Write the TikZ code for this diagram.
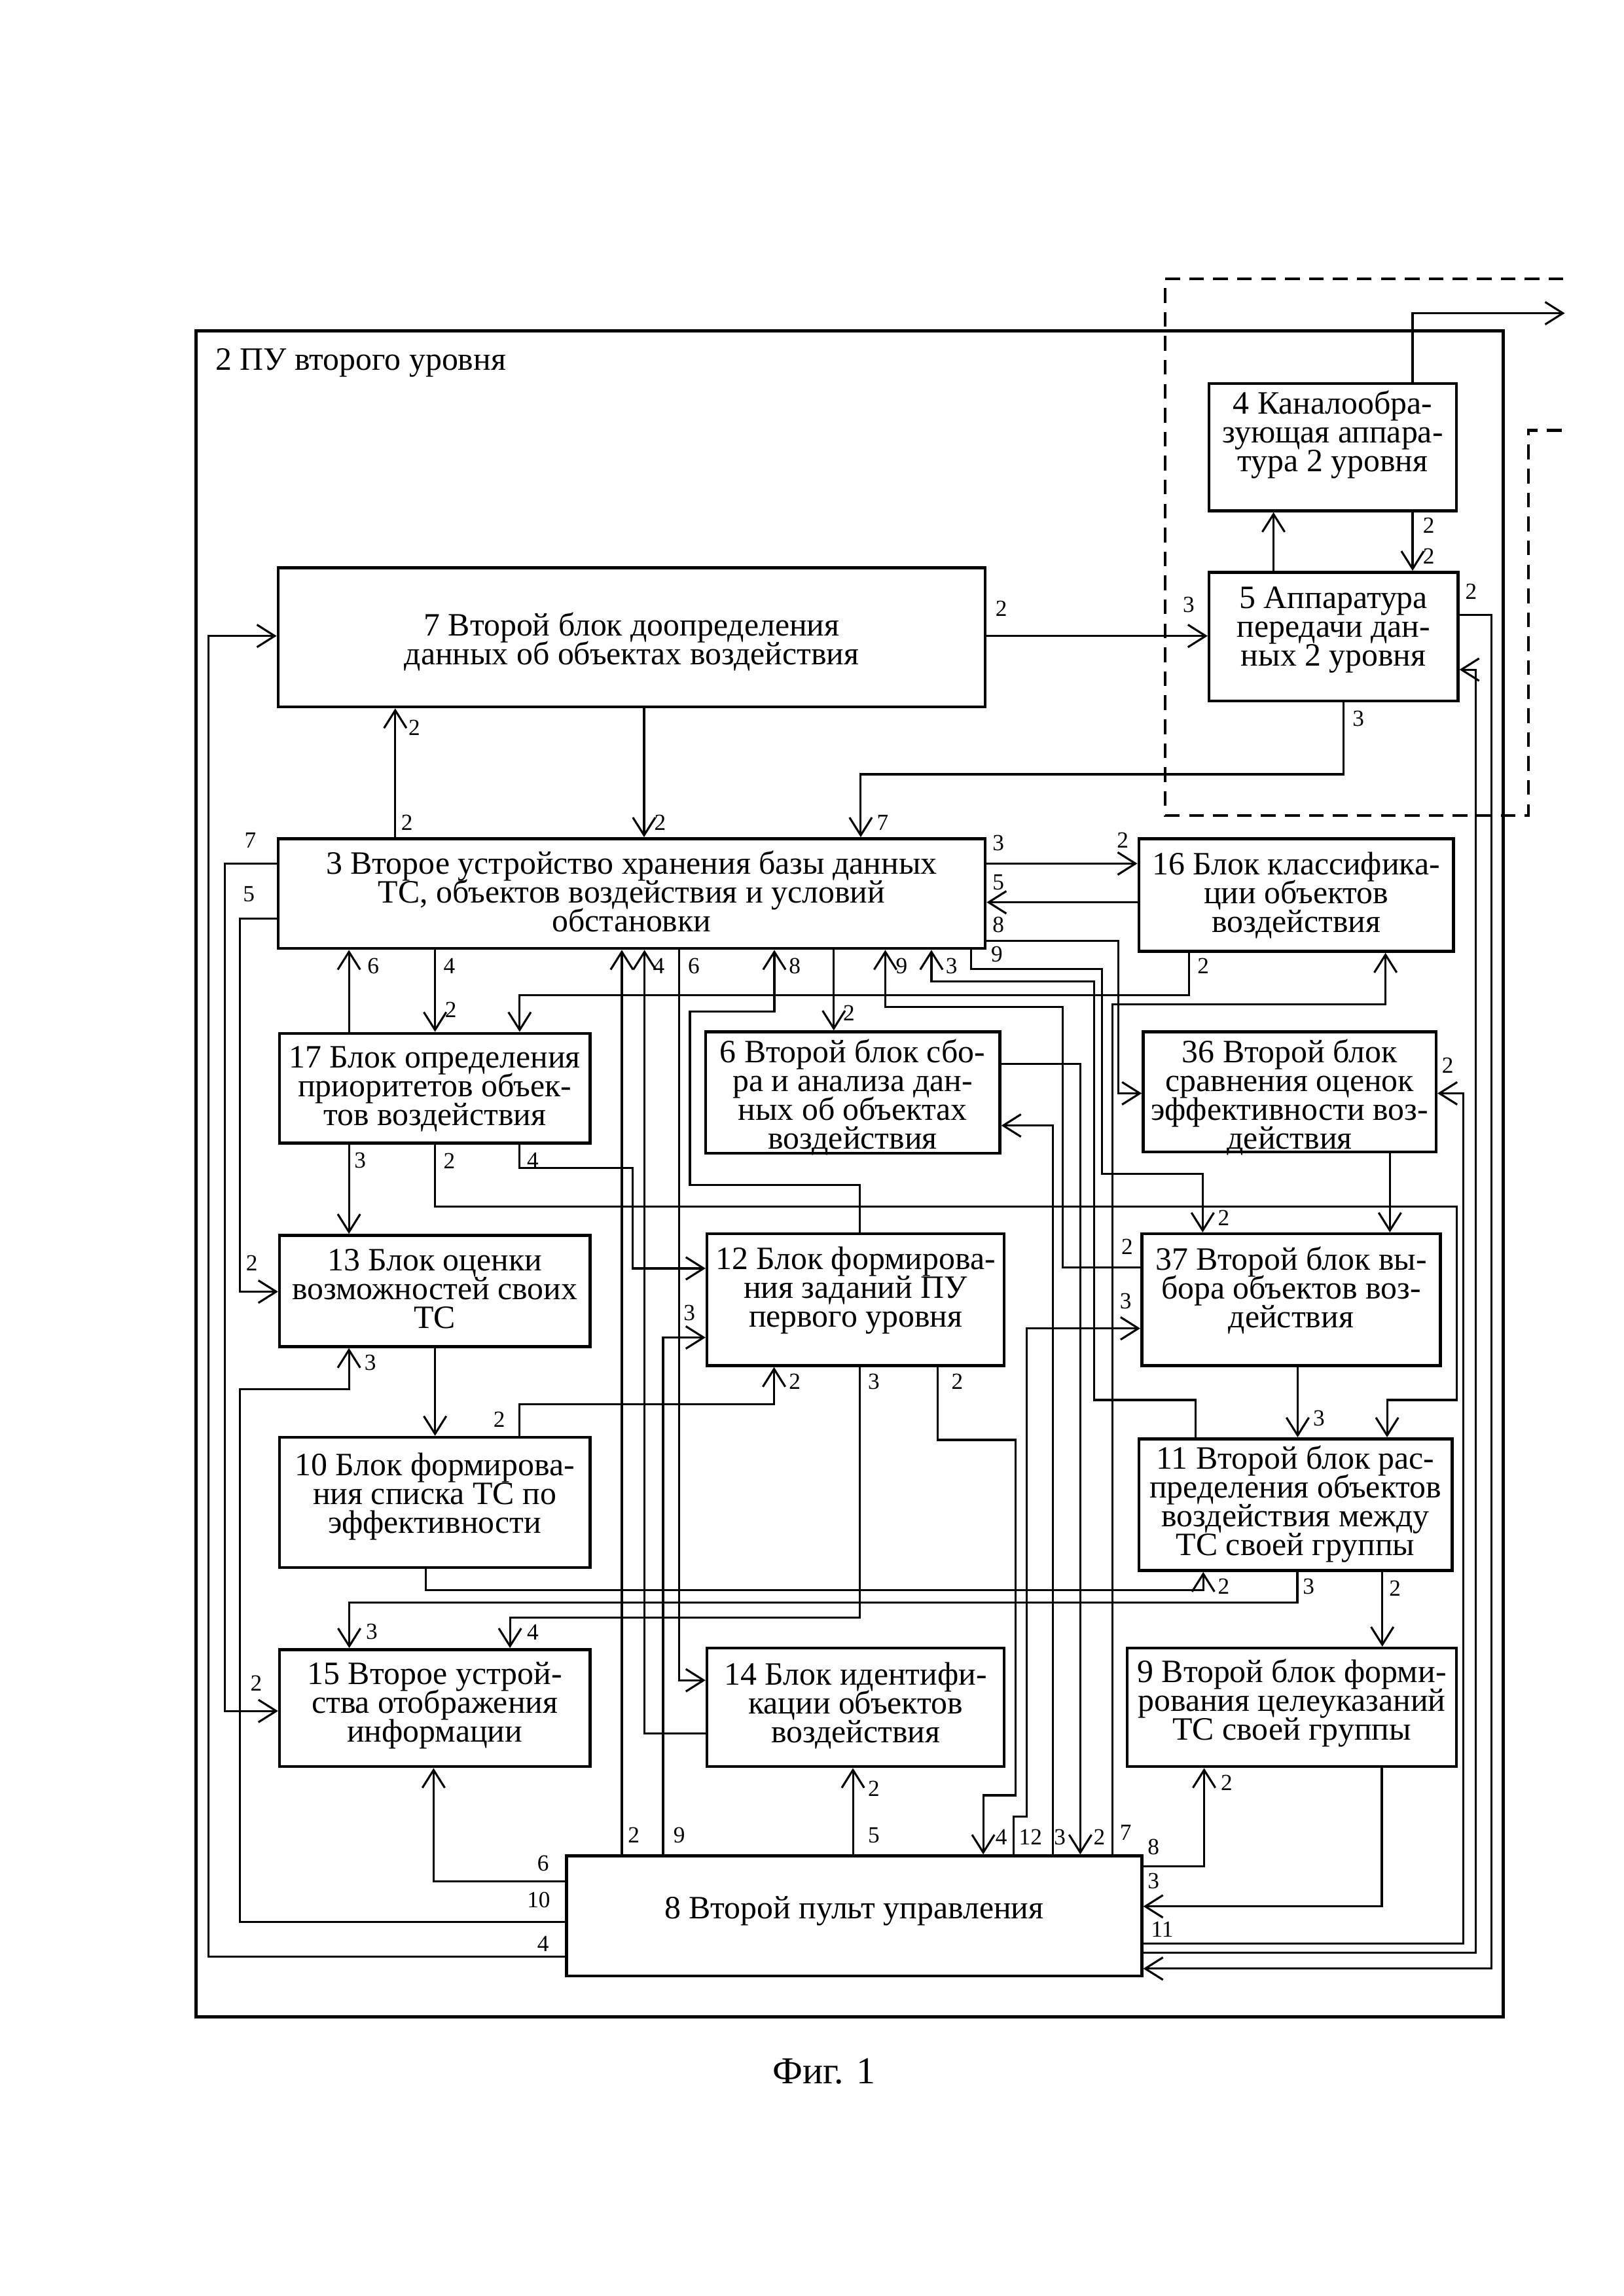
\documentclass[tikz,border=0pt]{standalone}
\usepackage{fontspec}
\setmainfont{Liberation Serif}
\usetikzlibrary{arrows.meta,fit}

\begin{document}
\lineskiplimit=-20pt\relax
\begin{tikzpicture}[x=0.18936mm, y=-0.18936mm,
    blk/.style={draw, line width=1.1pt, inner sep=0pt},
    txt/.style={inner sep=0pt, align=center, font=\fontsize{12}{10.6}\selectfont},
    arr/.style={line width=0.75pt, -{Straight Barb[length=2.3mm,width=2.9mm]}},
    num/.style={inner sep=0pt, font=\fontsize{8.5}{8.5}\selectfont}]
    \useasboundingbox (0,0) rectangle (1109,1568.7);

    % outer frame and the dashed part
    \node[draw, line width=1.3pt, inner sep=0pt, fit={(134,226) (1027,1378)}] (b2) {};
    \node[anchor=west, inner sep=0pt, font=\fontsize{12}{12}\selectfont] (t2) at (147,248) {2 ПУ второго уровня};
    \draw[line width=1pt, dash pattern=on 1.9mm off 1.2mm] (1068,190.5) -- (796,190.5) -- (796,557) -- (1044,557) -- (1044,294) -- (1068,294);
    \coordinate (ext) at (1069,214);

    % blocks
    \node[blk, fit={(826,262) (995,349)}] (b4) {};
    \node[blk, fit={(826,391) (996,479)}] (b5) {};
    \node[blk, fit={(190,388) (673,483)}] (b7) {};
    \node[blk, fit={(190,573) (673,648)}] (b3) {};
    \node[blk, fit={(778,573) (993,650)}] (b16) {};
    \node[blk, fit={(191,706) (403,781)}] (b17) {};
    \node[blk, fit={(482,705) (683,788)}] (b6) {};
    \node[blk, fit={(781,705) (981,787)}] (b36) {};
    \node[blk, fit={(191,844) (403,920)}] (b13) {};
    \node[blk, fit={(483,843) (686,933)}] (b12) {};
    \node[blk, fit={(780,843) (984,933)}] (b37) {};
    \node[blk, fit={(191,982) (403,1071)}] (b10) {};
    \node[blk, fit={(778,983) (992,1073)}] (b11) {};
    \node[blk, fit={(191,1127) (403,1207)}] (b15) {};
    \node[blk, fit={(483,1126) (686,1207)}] (b14) {};
    \node[blk, fit={(770,1126) (995,1207)}] (b9) {};
    \node[blk, fit={(387,1268) (780,1350)}] (b8) {};

    % texts of the blocks
    \node[txt, yshift=4.5pt] (t4) at (b4.center) {4 Каналообра-\\зующая аппара-\\тура 2 уровня};
    \node[txt, yshift=2.4pt] (t5) at (b5.center) {5 Аппаратура\\передачи дан-\\ных 2 уровня};
    \node[txt, yshift=-1.6pt] (t7) at (b7.center) {7 Второй блок доопределения\\данных об объектах воздействия};
    \node[txt, yshift=0.8pt] (t3) at (b3.center) {3 Второе устройство хранения базы данных\\ТС, объектов воздействия и условий\\обстановки};
    \node[txt, yshift=-0.2pt] (t16) at (b16.center) {16 Блок классифика-\\ции объектов\\воздействия};
    \node[txt, yshift=-0.4pt] (t17) at (b17.center) {17 Блок определения\\приоритетов объек-\\тов воздействия};
    \node[txt, yshift=-1.7pt] (t6) at (b6.center) {6 Второй блок сбо-\\ра и анализа дан-\\ных об объектах\\воздействия};
    \node[txt, yshift=-2pt] (t36) at (b36.center) {36 Второй блок\\сравнения оценок\\эффективности воз-\\действия};
    \node[txt, yshift=0.8pt] (t13) at (b13.center) {13 Блок оценки\\возможностей своих\\ТС};
    \node[txt, yshift=3.5pt] (t12) at (b12.center) {12 Блок формирова-\\ния заданий ПУ\\первого уровня};
    \node[txt, yshift=3.5pt] (t37) at (b37.center) {37 Второй блок вы-\\бора объектов воз-\\действия};
    \node[txt, yshift=2.1pt] (t10) at (b10.center) {10 Блок формирова-\\ния списка ТС по\\эффективности};
    \node[txt, yshift=0.2pt] (t11) at (b11.center) {11 Второй блок рас-\\пределения объектов\\воздействия между\\ТС своей группы};
    \node[txt, yshift=1pt] (t15) at (b15.center) {15 Второе устрой-\\ства отображения\\информации};
    \node[txt, yshift=0.5pt] (t14) at (b14.center) {14 Блок идентифи-\\кации объектов\\воздействия};
    \node[txt, yshift=1.6pt] (t9) at (b9.center) {9 Второй блок форми-\\рования целеуказаний\\ТС своей группы};
    \node[txt, yshift=1.9pt] (t8) at (b8.center) {8 Второй пульт управления};

    % blocks 4, 5 and 7
    \draw[arr] (b4.north -| 965,0) |- (ext);
    \draw[arr] (b5.north -| 870,0) -- (b4.south -| 870,0);
    \draw[arr] (b4.south -| 965,0) -- (b5.north -| 965,0);
    \draw[arr] (b7.east |- 0,434.5) -- (b5.west |- 0,434.5);
    \draw[arr] (b5.east |- 0,420) -| (1019,1345) -- (b8.east |- 0,1345);
    \draw[arr] (b8.east |- 0,1334) -| (1008,457.5) -- (b5.east |- 0,457.5);
    \draw[arr] (b5.south -| 918,0) |- (588,529) -- (b3.north -| 588,0);
    \draw[arr] (b3.north -| 270,0) -- (b7.south -| 270,0);
    \draw[arr] (b7.south -| 440,0) -- (b3.north -| 440,0);
    \draw[arr] (b8.west |- 0,1337) -| (142.5,434.5) -- (b7.west |- 0,434.5);

    % left column
    \draw[arr] (b3.west |- 0,590) -| (153.5,1169) -- (b15.west |- 0,1169);
    \draw[arr] (b3.west |- 0,627.5) -| (164,882.5) -- (b13.west |- 0,882.5);
    \draw[arr] (b8.west |- 0,1313) -| (164,949) -| (b13.south -| 238.4,0);

    % block 3 with 16, 36
    \draw[arr] (b3.east |- 0,590) -- (b16.west |- 0,590);
    \draw[arr] (b16.west |- 0,616.5) -- (b3.east |- 0,616.5);
    \draw[arr] (b3.east |- 0,643) -| (764,747) -- (b36.west |- 0,747);
    \draw[arr] (b16.south -| 812.4,0) |- (355,680) -- (b17.north -| 355,0);
    \draw[arr] (b8.north -| 760,0) |- (946.5,686.3) -- (b16.south -| 946.5,0);

    % bottom side of block 3
    \draw[arr] (b17.north -| 238.4,0) -- (b3.south -| 238.4,0);
    \draw[arr] (b3.south -| 297.2,0) -- (b17.north -| 297.2,0);
    \draw[arr] (b8.north -| 424.8,0) -- (b3.south -| 424.8,0);
    \draw[arr] (b14.west |- 0,1184.5) -| (b3.south -| 440.3,0);
    \draw[arr] (b3.south -| 464,0) |- (b14.west |- 0,1148);
    \draw[arr] (b12.north -| 587.3,0) |- (471.3,809.5) |- (529,691.3) -- (b3.south -| 529,0);
    \draw[arr] (b3.south -| 569.6,0) -- (b6.north -| 569.6,0);
    \draw[arr] (b37.west |- 0,866) -| (726,688) -| (b3.south -| 604.8,0);
    \draw[arr] (b11.north -| 816.8,0) |- (747.5,956.5) |- (636.3,670.4) -- (b3.south -| 636.3,0);
    \draw[arr] (b3.south -| 663.3,0) |- (753,662) |- (821.6,802) -- (b37.north -| 821.6,0);

    % block 17
    \draw[arr] (b17.south -| 238.4,0) -- (b13.north -| 238.4,0);
    \draw[arr] (b17.south -| 297.2,0) |- (995,824.5) |- (947.6,956.5) -- (b11.north -| 947.6,0);
    \draw[arr] (b17.south -| 355,0) |- (432,798) |- (b12.west |- 0,866.6);

    % blocks 6, 36, 37
    \draw[arr] (b6.east |- 0,727) -| (b8.north -| 738,0);
    \draw[arr] (b8.north -| 719.2,0) |- (b6.east |- 0,769);
    \draw[arr] (b36.south -| 949.5,0) -- (b37.north -| 949.5,0);
    \draw[arr] (b8.east |- 0,1328) -| (999.6,747) -- (b36.east |- 0,747);
    \draw[arr] (b8.north -| 692.4,0) |- (701.2,1241) |- (b37.west |- 0,907.6);
    \draw[arr] (b37.south -| 886.5,0) -- (b11.north -| 886.5,0);

    % blocks 13, 10, 12, 11
    \draw[arr] (b13.south -| 297.2,0) -- (b10.north -| 297.2,0);
    \draw[arr] (b10.north -| 354.8,0) |- (528.8,959.4) -- (b12.south -| 528.8,0);
    \draw[arr] (b10.south -| 291,0) |- (822,1086.5) -- (b11.south -| 822,0);
    \draw[arr] (b11.south -| 886.3,0) |- (238.6,1095) -- (b15.north -| 238.6,0);
    \draw[arr] (b12.south -| 587.3,0) |- (348.4,1105) -- (b15.north -| 348.4,0);
    \draw[arr] (b12.south -| 640.7,0) |- (693.7,983.8) |- (671.7,1226.6) -- (b8.north -| 671.7,0);
    \draw[arr] (b8.north -| 453,0) |- (b12.west |- 0,913.8);
    \draw[arr] (b11.south -| 944.3,0) -- (b9.north -| 944.3,0);

    % block 8
    \draw[arr] (b8.north -| 582.7,0) -- (b14.south -| 582.7,0);
    \draw[arr] (b8.west |- 0,1285.5) -| (b15.south -| 296.2,0);
    \draw[arr] (b8.east |- 0,1275) -| (b9.south -| 822.6,0);
    \draw[arr] (b9.south -| 944,0) |- (b8.east |- 0,1302.5);

    % port numbers
    \foreach \x/\y/\t [count=\i] in {684/416/2, 812/413/3, 976/359/2, 976/380/2, 1005/404/2, 928/491/3,
        283/497/2, 278/562/2, 451/562/2, 603/562/7, 171/574/7, 170/611/5,
        682/576/3, 767/574/2, 682/603/5, 682/632/8, 681/652/9, 822/660/2,
        255/660/6, 307/660/4, 308/690/2, 450/660/4, 474/660/6, 543/660/8, 616/660/9, 650/660/3, 580/692/2,
        989/728/2, 246/793/3, 307/793/2, 364/793/4, 836/832/2, 172/863/2, 770/852/2, 471/897/3, 769/889/3, 253/931/3,
        543/944/2, 597/944/3, 654/944/2, 341/970/2, 901/969/3,
        836/1084/2, 894/1084/3, 953/1085/2, 254/1115/3, 364/1115/4, 175/1150/2,
        597/1222/2, 838/1218/2,
        433/1254/2, 464/1254/9, 597/1254/5, 684/1255/4, 704/1255/12, 724/1255/3, 751/1255/2, 769/1252/7,
        371/1273/6, 368/1298/10, 371/1328/4, 788/1262/8, 788/1285/3, 794/1318/11}
        \node[num] (n\i) at (\x,\y) {\t};

    \node[font=\fontsize{14}{14}\selectfont] (cap) at (563,1415) {Фиг. 1};
\end{tikzpicture}
\end{document}
